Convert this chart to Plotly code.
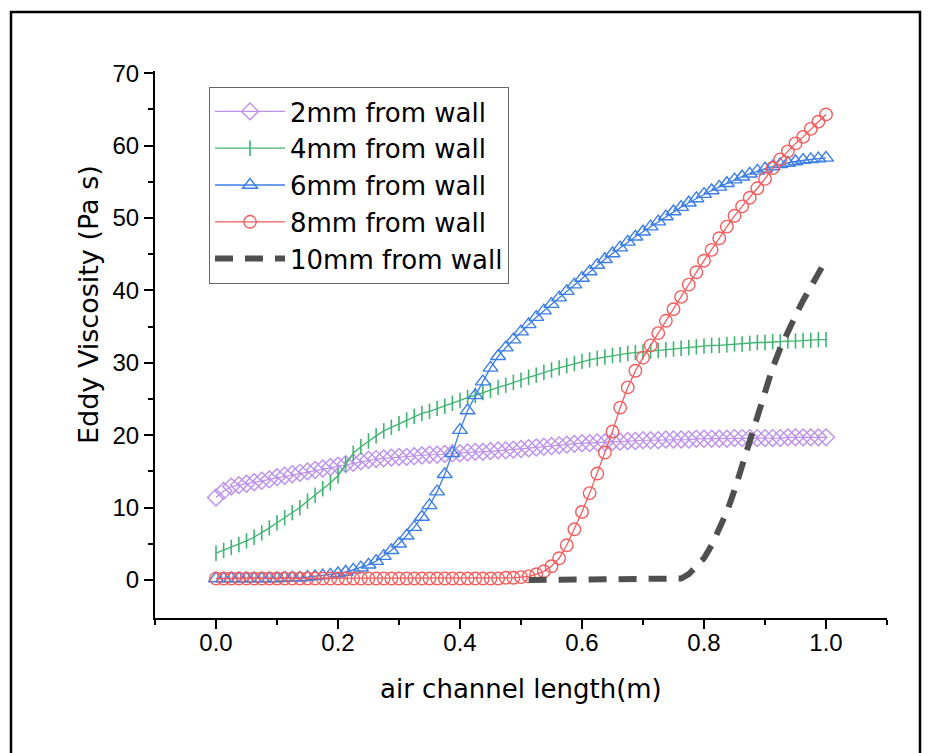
import plotly.graph_objects as go

# ---------------- data ----------------
X = [
    0.0, 0.0125, 0.025, 0.0375, 0.05, 0.0625, 0.075, 0.0875,
    0.1, 0.1125, 0.125, 0.1375, 0.15, 0.1625, 0.175, 0.1875,
    0.2, 0.2125, 0.225, 0.2375, 0.25, 0.2625, 0.275, 0.2875,
    0.3, 0.3125, 0.325, 0.3375, 0.35, 0.3625, 0.375, 0.3875,
    0.4, 0.4125, 0.425, 0.4375, 0.45, 0.4625, 0.475, 0.4875,
    0.5, 0.5125, 0.525, 0.5375, 0.55, 0.5625, 0.575, 0.5875,
    0.6, 0.6125, 0.625, 0.6375, 0.65, 0.6625, 0.675, 0.6875,
    0.7, 0.7125, 0.725, 0.7375, 0.75, 0.7625, 0.775, 0.7875,
    0.8, 0.8125, 0.825, 0.8375, 0.85, 0.8625, 0.875, 0.8875,
    0.9, 0.9125, 0.925, 0.9375, 0.95, 0.9625, 0.975, 0.9875,
    1.0,
]

Y_2MM = [
    11.4, 12.3, 12.9, 13.1, 13.3, 13.5, 13.7, 13.9,
    14.2, 14.4, 14.6, 14.8, 15.0, 15.2, 15.4, 15.6,
    15.8, 16.0, 16.2, 16.4, 16.6, 16.7, 16.8, 16.9,
    17.0, 17.0, 17.1, 17.2, 17.3, 17.3, 17.4, 17.5,
    17.5, 17.6, 17.7, 17.7, 17.8, 17.9, 17.9, 18.0,
    18.1, 18.2, 18.3, 18.4, 18.5, 18.6, 18.7, 18.8,
    18.9, 18.9, 19.0, 19.0, 19.1, 19.1, 19.2, 19.2,
    19.3, 19.3, 19.3, 19.4, 19.4, 19.4, 19.4, 19.5,
    19.5, 19.5, 19.5, 19.5, 19.6, 19.6, 19.6, 19.6,
    19.6, 19.6, 19.6, 19.7, 19.7, 19.7, 19.7, 19.7,
    19.7,
]

Y_4MM = [
    3.7, 4.1, 4.5, 4.9, 5.4, 5.9, 6.5, 7.2,
    7.9, 8.6, 9.3, 10.0, 10.9, 11.7, 12.6, 13.4,
    14.4, 16.0, 17.5, 18.4, 19.2, 19.9, 20.6, 21.1,
    21.6, 22.1, 22.6, 23.0, 23.3, 23.7, 24.0, 24.4,
    24.8, 25.2, 25.5, 25.9, 26.2, 26.6, 26.9, 27.3,
    27.6, 28.0, 28.3, 28.7, 29.0, 29.3, 29.6, 29.9,
    30.2, 30.4, 30.6, 30.8, 31.0, 31.1, 31.3, 31.4,
    31.5, 31.6, 31.7, 31.8, 31.9, 32.0, 32.1, 32.2,
    32.3, 32.4, 32.4, 32.5, 32.6, 32.6, 32.7, 32.8,
    32.8, 32.9, 32.9, 33.0, 33.0, 33.1, 33.1, 33.2,
    33.2,
]

Y_6MM = [
    0.2, 0.2, 0.2, 0.2, 0.2, 0.2, 0.2, 0.2,
    0.2, 0.3, 0.3, 0.3, 0.4, 0.5, 0.6, 0.7,
    0.9, 1.1, 1.4, 1.7, 2.1, 2.6, 3.3, 4.1,
    5.0, 6.1, 7.3, 8.7, 10.3, 12.2, 14.6, 17.5,
    20.7, 23.4, 25.5, 27.4, 29.3, 30.9, 32.1, 33.2,
    34.3, 35.3, 36.3, 37.2, 38.1, 39.0, 39.9, 40.8,
    41.7, 42.6, 43.5, 44.3, 45.1, 45.9, 46.7, 47.4,
    48.1, 48.8, 49.5, 50.2, 50.9, 51.5, 52.1, 52.7,
    53.3, 53.8, 54.3, 54.8, 55.3, 55.7, 56.1, 56.5,
    56.8, 57.1, 57.4, 57.6, 57.8, 58.0, 58.1, 58.2,
    58.3,
]

Y_8MM = [
    0.2, 0.2, 0.2, 0.2, 0.2, 0.2, 0.2, 0.2,
    0.2, 0.2, 0.2, 0.2, 0.2, 0.2, 0.2, 0.2,
    0.2, 0.2, 0.2, 0.2, 0.2, 0.2, 0.2, 0.2,
    0.2, 0.2, 0.2, 0.2, 0.2, 0.2, 0.2, 0.2,
    0.2, 0.2, 0.2, 0.2, 0.2, 0.2, 0.3, 0.3,
    0.4, 0.5, 0.8, 1.2, 1.9, 3.0, 4.8, 7.0,
    9.4, 12.0, 14.7, 17.6, 20.5, 23.8, 26.6, 28.9,
    30.7, 32.4, 34.1, 35.8, 37.4, 39.1, 40.8, 42.5,
    44.1, 45.6, 47.2, 48.8, 50.3, 51.6, 52.8, 54.1,
    55.4, 56.9, 58.1, 59.2, 60.3, 61.2, 62.3, 63.3,
    64.3,
]

# the 10 mm curve only exists from x = 0.5125 onwards
X_10MM = X[41:]
Y_10MM = [
    0.0, 0.0, 0.0, 0.0, 0.0, 0.0, 0.0, 0.0,
    0.0, 0.0, 0.0, 0.0, 0.0, 0.0, 0.0, 0.0,
    0.0, 0.0, 0.0, 0.0, 0.2, 0.8, 1.8, 3.0,
    4.8, 7.0, 9.4, 12.4, 15.8, 19.3, 23.0, 26.3,
    29.3, 32.0, 34.4, 36.5, 38.6, 40.6, 42.5, 44.2,
]

SERIES_NAMES = ["2mm from wall", "4mm from wall", "6mm from wall",
                "8mm from wall", "10mm from wall"]

X_TITLE = "air channel length(m)"
Y_TITLE = "Eddy Viscosity (Pa s)"

# ---------------- styling ----------------
FONT_TICK = "Liberation Sans, Arial, Helvetica, sans-serif"
FONT_TEXT = "DejaVu Sans, Verdana, sans-serif"
C_2MM = "#BE90EC"
C_4MM = "#3FB470"
C_6MM = "#3A7EE6"
C_8MM = "#F65C5C"
C_10MM = "#4F4F4F"

fig = go.Figure()

fig.add_trace(go.Scatter(
    x=X, y=Y_2MM, name=SERIES_NAMES[0], mode="lines+markers",
    line=dict(color=C_2MM, width=1.2),
    marker=dict(symbol="diamond-open", size=13, color=C_2MM,
                line=dict(width=1.4, color=C_2MM)),
))
fig.add_trace(go.Scatter(
    x=X, y=Y_4MM, name=SERIES_NAMES[1], mode="lines+markers",
    line=dict(color=C_4MM, width=1.3),
    marker=dict(symbol="line-ns-open", size=11, color=C_4MM,
                line=dict(width=1.6, color=C_4MM)),
))
fig.add_trace(go.Scatter(
    x=X, y=Y_6MM, name=SERIES_NAMES[2], mode="lines+markers",
    line=dict(color=C_6MM, width=1.3),
    marker=dict(symbol="triangle-up-open", size=13, color=C_6MM,
                line=dict(width=1.4, color=C_6MM)),
))
fig.add_trace(go.Scatter(
    x=X, y=Y_8MM, name=SERIES_NAMES[3], mode="lines+markers",
    line=dict(color=C_8MM, width=1.3),
    marker=dict(symbol="circle-open", size=12.5, color=C_8MM,
                line=dict(width=1.4, color=C_8MM)),
))
fig.add_trace(go.Scatter(
    x=X_10MM, y=Y_10MM, name=SERIES_NAMES[4], mode="lines",
    line=dict(color=C_10MM, width=6, dash="18px,12px"),
))

L, R, T, B = 155, 44, 71, 135
PW = 931 - L - R
PH = 753 - T - B

axis_common = dict(
    showline=True, linecolor="black", linewidth=2,
    ticks="outside", tickcolor="black", tickwidth=2,
    showgrid=False, zeroline=False, mirror=False,
    tickfont=dict(family=FONT_TICK, size=24, color="black"),
)

fig.update_xaxes(
    range=[-0.1, 1.1], tickmode="array",
    tickvals=[0.0, 0.2, 0.4, 0.6, 0.8, 1.0],
    ticktext=["0.0", "0.2", "0.4", "0.6", "0.8", "1.0"],
    ticklen=9, ticklabelstandoff=-7,
    minor=dict(tickmode="array", tickvals=[-0.1, 0.1, 0.3, 0.5, 0.7, 0.9, 1.1],
               ticks="outside", ticklen=5, tickwidth=2, tickcolor="black"),
    **axis_common,
)
fig.update_yaxes(
    range=[-5.25, 70.3], tickmode="array",
    tickvals=[0, 10, 20, 30, 40, 50, 60, 70],
    ticklen=9,
    minor=dict(tickmode="array", tickvals=[5, 15, 25, 35, 45, 55, 65],
               ticks="outside", ticklen=5, tickwidth=2, tickcolor="black"),
    **axis_common,
)

def px_to_paper_x(px):
    return (px - L) / PW

def px_to_paper_y(py):
    return (753 - B - py) / PH

fig.update_layout(
    width=931, height=753,
    margin=dict(l=L, r=R, t=T, b=B),
    paper_bgcolor="white", plot_bgcolor="white",
    font=dict(family=FONT_TEXT, color="black"),
    showlegend=True,
    legend=dict(
        x=px_to_paper_x(209), y=px_to_paper_y(87),
        xanchor="left", yanchor="top",
        bgcolor="white", bordercolor="#666666", borderwidth=1,
        font=dict(family=FONT_TEXT, size=26, color="black"),
        itemwidth=70, tracegroupgap=0,
    ),
    annotations=[
        dict(text=Y_TITLE, xref="paper", yref="paper",
             x=px_to_paper_x(88), y=px_to_paper_y(305),
             xanchor="center", yanchor="middle", textangle=-90,
             showarrow=False, font=dict(family=FONT_TEXT, size=27, color="black")),
        dict(text=X_TITLE, xref="paper", yref="paper",
             x=px_to_paper_x(521), y=px_to_paper_y(689),
             xanchor="center", yanchor="middle",
             showarrow=False, font=dict(family=FONT_TEXT, size=26, color="black")),
    ],
    shapes=[
        dict(type="rect", xref="paper", yref="paper",
             x0=px_to_paper_x(11), x1=px_to_paper_x(920),
             y0=px_to_paper_y(770), y1=px_to_paper_y(12),
             line=dict(color="black", width=2.5), fillcolor="rgba(0,0,0,0)",
             layer="above"),
    ],
)

fig.write_html("out.html")
